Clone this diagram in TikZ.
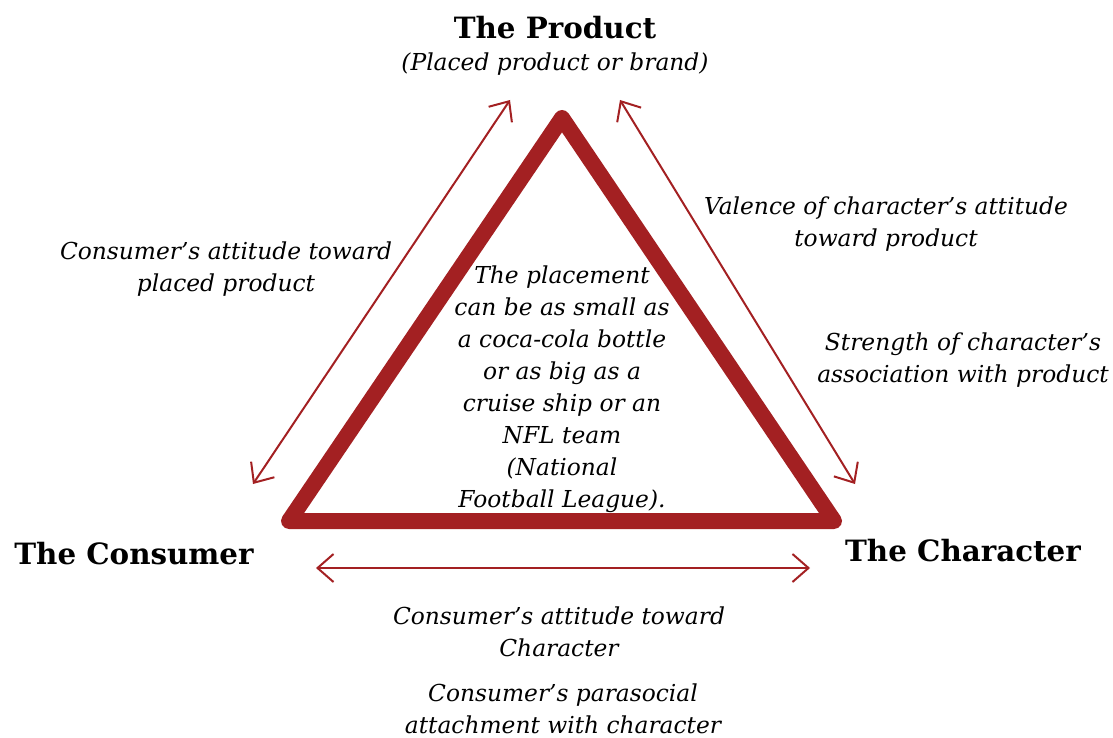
\documentclass[tikz,border=0pt]{standalone}
\usepackage{fontspec}
\setmainfont{DejaVu Serif}
\usetikzlibrary{arrows.meta}
\definecolor{wine}{RGB}{163,32,34}
\tikzset{
	title/.style={font=\bfseries\fontsize{22}{26}\selectfont, inner sep=0pt},
	note/.style={font=\itshape\fontsize{17.5}{24}\selectfont, align=center, inner sep=0pt},
	link/.style={wine, line width=1.5pt, {Straight Barb[length=12pt,width=21pt]}-{Straight Barb[length=12pt,width=21pt]}}
}
\begin{document}
\begin{tikzpicture}[x=0.75pt, y=-0.75pt]
		\useasboundingbox (0,0) rectangle (1113,738);

		% corners of the triangle
		\coordinate (top) at (562,118);
		\coordinate (left) at (289,521);
		\coordinate (right) at (834,521);
		\draw[wine, line width=12pt, line join=round] (top) -- (left) -- (right) -- cycle;

		% arrow ends
		\coordinate (la) at (253,484);
		\coordinate (lb) at (510,100);
		\coordinate (ra) at (620,100);
		\coordinate (rb) at (855,484);
		\coordinate (ba) at (316,568);
		\coordinate (bb) at (810,568);
		\draw[link] (la) -- (lb);
		\draw[link] (ra) -- (rb);
		\draw[link] (ba) -- (bb);

		\node[title] (product) at (555,28) {The Product};
		\node[note] (brand) at (555,64) {(Placed product or brand)};
		\node[title] (consumer) at (134,554) {The Consumer};
		\node[title] (character) at (963,551) {The Character};

		\node[note] (attprod) at (226,269) {Consumer’s attitude toward\\placed product};
		\node[note] (valence) at (886,224) {Valence of character’s attitude\\toward product};
		\node[note] (strength) at (963,360) {Strength of character’s\\association with product};
		\node[note] (attchar) at (559,632) {Consumer’s attitude toward\\Character};
		\node[note] (para) at (563,709) {Consumer’s parasocial\\attachment with character};

		\node[note] (placement) at (562,389) {The placement\\can be as small as\\a coca-cola bottle\\or as big as a\\cruise ship or an\\NFL team\\(National\\Football League).};
	\end{tikzpicture}
\end{document}
